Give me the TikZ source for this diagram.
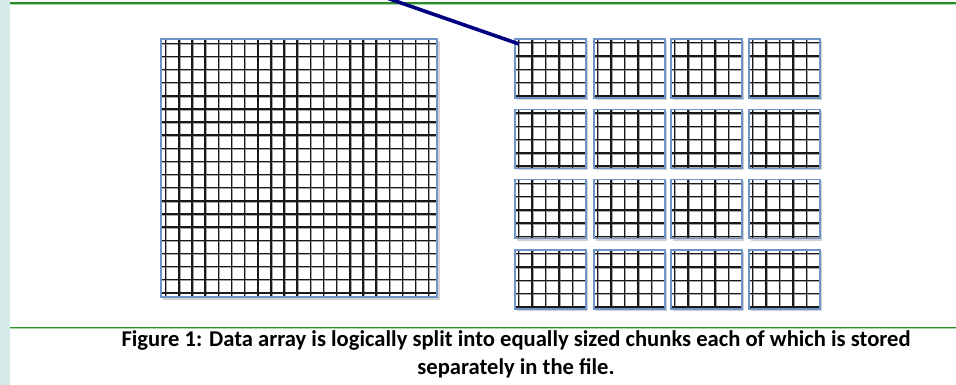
\documentclass[tikz,border=0pt]{standalone}
\usepackage{fontspec}
\setmainfont{Carlito}
\usetikzlibrary{calc}
\definecolor{stripcol}{HTML}{D3EAE8}
\definecolor{rulegreen}{HTML}{2A8F2A}
\definecolor{rulelight}{HTML}{A8D8A8}
\definecolor{boxblue}{HTML}{6E95C9}
\definecolor{navy}{HTML}{000080}
\tikzset{
  gridbox/.style={draw=boxblue, line width=1.3pt, fill=white, inner sep=0pt, outer sep=0pt, rectangle},
  gline/.style={black!90, line width=1.5pt},
  gshadow/.style={black!35, line width=1.6pt},
  boxshadow/.style={fill=black!18},
  rulestyle/.style={rulegreen, line width=1.6pt},
  ruleglow/.style={rulelight, line width=1pt},
  pointer/.style={navy, line width=3.6pt},
  captxt/.style={font=\bfseries\fontsize{22.6}{28}\selectfont, align=center, inner sep=0pt}
}
\begin{document}
\begin{tikzpicture}[x=1pt,y=-1pt]
\useasboundingbox (0,0) rectangle (956,384);
\clip (0,0) rectangle (956,384);
% left strip
\fill[stripcol] (0,-1) rectangle (10,385);
% rules
\draw[ruleglow] (10,4.8) -- (956,4.8);
\draw[rulestyle] (10,3.2) -- (956,3.2);
\draw[ruleglow] (10,328.8) -- (956,328.8);
\draw[rulestyle] (10,327.3) -- (956,327.3);
% big grid
\fill[boxshadow] (163,41) rectangle (439.5,299.5);
\node[gridbox, minimum width=276pt, minimum height=258pt, anchor=north west] (big) at (161,39) {};
\foreach \k in {0,...,20} {
  \draw[gshadow] ($(big.north west)+(5.6+13.15*\k,0)$) -- ($(big.south west)+(5.6+13.15*\k,0)$);
}
\foreach \k in {0,...,19} {
  \draw[gshadow] ($(big.north west)+(0,5.2+13.13*\k)$) -- ($(big.north east)+(0,5.2+13.13*\k)$);
}
\foreach \k in {0,...,20} {
  \draw[gline] ($(big.north west)+(4.7+13.15*\k,0)$) -- ($(big.south west)+(4.7+13.15*\k,0)$);
}
\foreach \k in {0,...,19} {
  \draw[gline] ($(big.north west)+(0,4.3+13.13*\k)$) -- ($(big.north east)+(0,4.3+13.13*\k)$);
}
\draw[boxblue, line width=1.3pt] (big.north west) rectangle (big.south east);
% chunks
\foreach \c/\xx in {1/515,2/594,3/671,4/749} {
  \foreach \r/\yy in {1/39,2/109.3,3/179.6,4/250} {
    \fill[boxshadow] (\xx+1.5,\yy+1.5) rectangle (\xx+73,\yy+61);
    \node[gridbox, minimum width=71pt, minimum height=59pt, anchor=north west] (c\r\c) at (\xx,\yy) {};
    \foreach \k in {0,...,4} {
      \draw[gshadow] ($(c\r\c.north west)+(4.2+13.6*\k,0)$) -- ($(c\r\c.south west)+(4.2+13.6*\k,0)$);
      \draw[gshadow] ($(c\r\c.north west)+(0,4.6+13.3*\k)$) -- ($(c\r\c.north east)+(0,4.6+13.3*\k)$);
    }
    \foreach \k in {0,...,4} {
      \draw[gline] ($(c\r\c.north west)+(3.3+13.6*\k,0)$) -- ($(c\r\c.south west)+(3.3+13.6*\k,0)$);
      \draw[gline] ($(c\r\c.north west)+(0,3.7+13.3*\k)$) -- ($(c\r\c.north east)+(0,3.7+13.3*\k)$);
    }
    \draw[boxblue, line width=1.3pt] (c\r\c.north west) rectangle (c\r\c.south east);
  }
}
% pointer
\coordinate (pstart) at (384,-3);
\draw[pointer] (pstart) -- ($(c11.north west)+(4,5)$);
% caption
\node[captxt] (cap) at (516,354) {Figure 1: Data array is logically split into equally sized chunks each of which is stored\\separately in the file.};
\end{tikzpicture}
\end{document}
